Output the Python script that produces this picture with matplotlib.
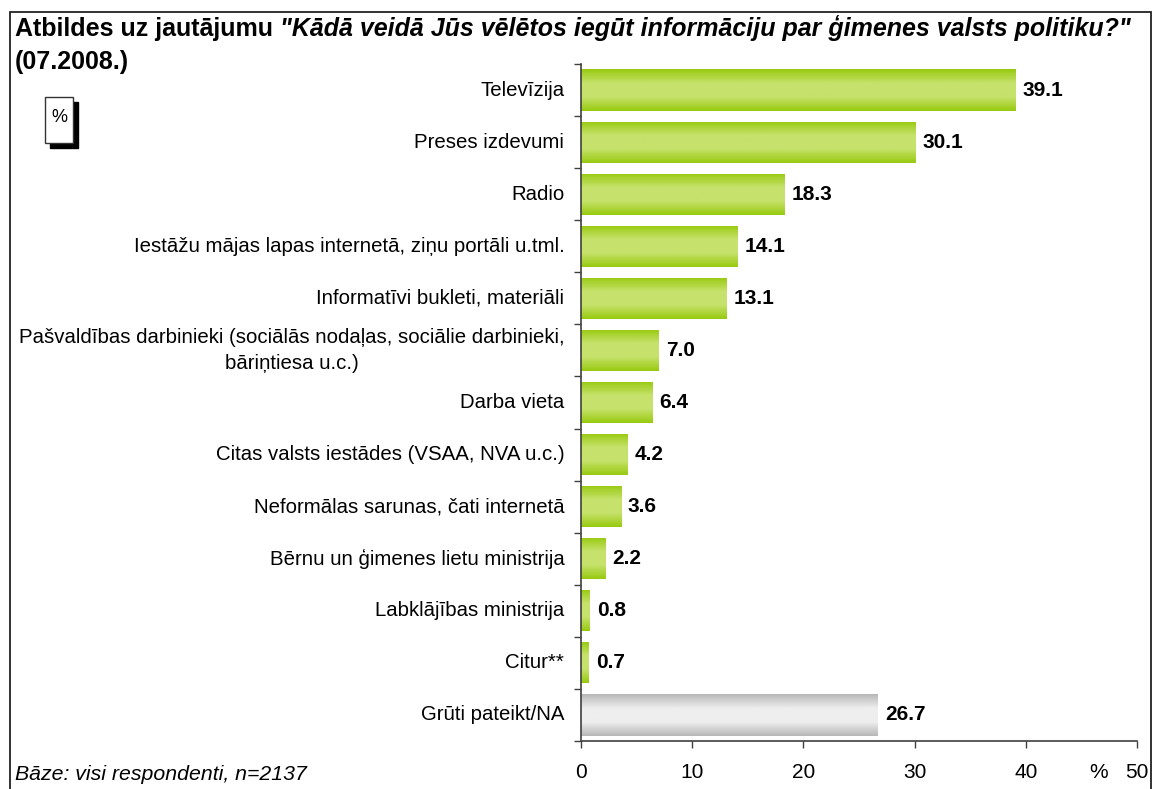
import matplotlib
matplotlib.use("Agg")
import matplotlib.pyplot as plt
import numpy as np
from matplotlib.patches import Rectangle
from matplotlib.colors import LinearSegmentedColormap

plt.rcParams['font.family'] = ['Liberation Sans', 'DejaVu Sans']

categories = [
    "Televīzija",
    "Preses izdevumi",
    "Radio",
    "Iestāžu mājas lapas internetā, ziņu portāli u.tml.",
    "Informatīvi bukleti, materiāli",
    "Pašvaldības darbinieki (sociālās nodaļas, sociālie darbinieki,\nbāriņtiesa u.c.)",
    "Darba vieta",
    "Citas valsts iestādes (VSAA, NVA u.c.)",
    "Neformālas sarunas, čati internetā",
    "Bērnu un ģimenes lietu ministrija",
    "Labklājības ministrija",
    "Citur**",
    "Grūti pateikt/NA",
]
values = [39.1, 30.1, 18.3, 14.1, 13.1, 7.0, 6.4, 4.2, 3.6, 2.2, 0.8, 0.7, 26.7]
xticks = [0, 10, 20, 30, 40, 50]

W, H = 1154, 789
fig = plt.figure(figsize=(W / 100, H / 100), dpi=100)

# outer frame
fig.patches.append(Rectangle((10 / W, -0.01), (1151 - 10) / W, (789 - 12) / H + 0.01,
                             transform=fig.transFigure, fill=False, edgecolor='#222222',
                             linewidth=1.3))

ax = fig.add_axes([581 / W, 1 - 741 / H, (1137 - 581) / W, (741 - 64) / H])
n = len(categories)
ypos = np.arange(n)
bars = ax.barh(ypos, values, height=0.79, color='none', edgecolor='none')

green = LinearSegmentedColormap.from_list('g', ['#98CA10', '#C6E26C', '#C6E26C', '#98CA10'])
gray = LinearSegmentedColormap.from_list('k', ['#B8B8B8', '#EEEEEE', '#EEEEEE', '#B8B8B8'])
grad = np.linspace(0, 1, 64).reshape(-1, 1)
for i, (b, v) in enumerate(zip(bars, values)):
    cmap = gray if categories[i].startswith("Grūti") else green
    x0, y0 = b.get_x(), b.get_y()
    w, h = b.get_width(), b.get_height()
    im = ax.imshow(grad, cmap=cmap, aspect='auto', extent=(x0, x0 + w, y0 + h, y0),
                   interpolation='bilinear', zorder=2)
    im.set_clip_path(b)
    ax.annotate(f"{v:.1f}", xy=(v, i), xytext=(5, 0), textcoords='offset points',
                ha='left', va='center', fontsize=15, fontweight='bold', color='black')
ax.set_ylim(n - 0.5, -0.5)
ax.set_xlim(0, 50)

# category boundary ticks
ax.set_yticks(np.arange(-0.5, n, 1))
ax.set_yticklabels([])
ax.tick_params(axis='y', length=5, color='#404040', width=1)
# category labels
for i, c in enumerate(categories):
    ax.annotate(c, xy=(0, i), xycoords=('axes fraction', 'data'), xytext=(-12, 0),
                textcoords='offset points', ha='right', va='center',
                multialignment='center', fontsize=14.7, linespacing=1.5)

ax.set_xticks(xticks)
ax.set_xticklabels([str(t) for t in xticks], fontsize=15)
ax.tick_params(axis='x', length=5, color='#404040', width=1, pad=11)
for s in ['top', 'right']:
    ax.spines[s].set_visible(False)
for s in ['left', 'bottom']:
    ax.spines[s].set_color('#404040')
    ax.spines[s].set_linewidth(1.2)

ax.annotate('%', xy=(46.5, 0), xycoords=('data', 'axes fraction'),
            xytext=(0, -15.6), textcoords='offset points', ha='center', va='top',
            fontsize=15)

# title
t1 = fig.text(15 / W, 1 - 36 / H, 'Atbildes uz jautājumu ', fontsize=18,
              fontweight='bold', ha='left', va='baseline')
fig.canvas.draw()
ax.annotate('"Kādā veidā Jūs vēlētos iegūt informāciju par ģimenes valsts politiku?"',
            xy=(1, 0), xycoords=t1, ha='left', va='bottom', fontsize=18,
            fontweight='bold', style='italic', annotation_clip=False)
fig.text(15 / W, 1 - 62 / H, '(07.2008.)', fontsize=18, fontweight='bold',
         ha='left', va='center')

# % box with shadow
fig.patches.append(Rectangle((50 / W, 1 - 148 / H), 28 / W, 46 / H,
                             transform=fig.transFigure, facecolor='black', edgecolor='black'))
fig.patches.append(Rectangle((45 / W, 1 - 143 / H), 28 / W, 46 / H,
                             transform=fig.transFigure, facecolor='white',
                             edgecolor='#333333', linewidth=1))
fig.text(59 / W, 1 - 118 / H, '%', fontsize=13, ha='center', va='center')

fig.text(15 / W, 1 - 775 / H, 'Bāze: visi respondenti, n=2137', fontsize=15.3,
         style='italic', ha='left', va='center')

fig.savefig('out.png', dpi=100)
